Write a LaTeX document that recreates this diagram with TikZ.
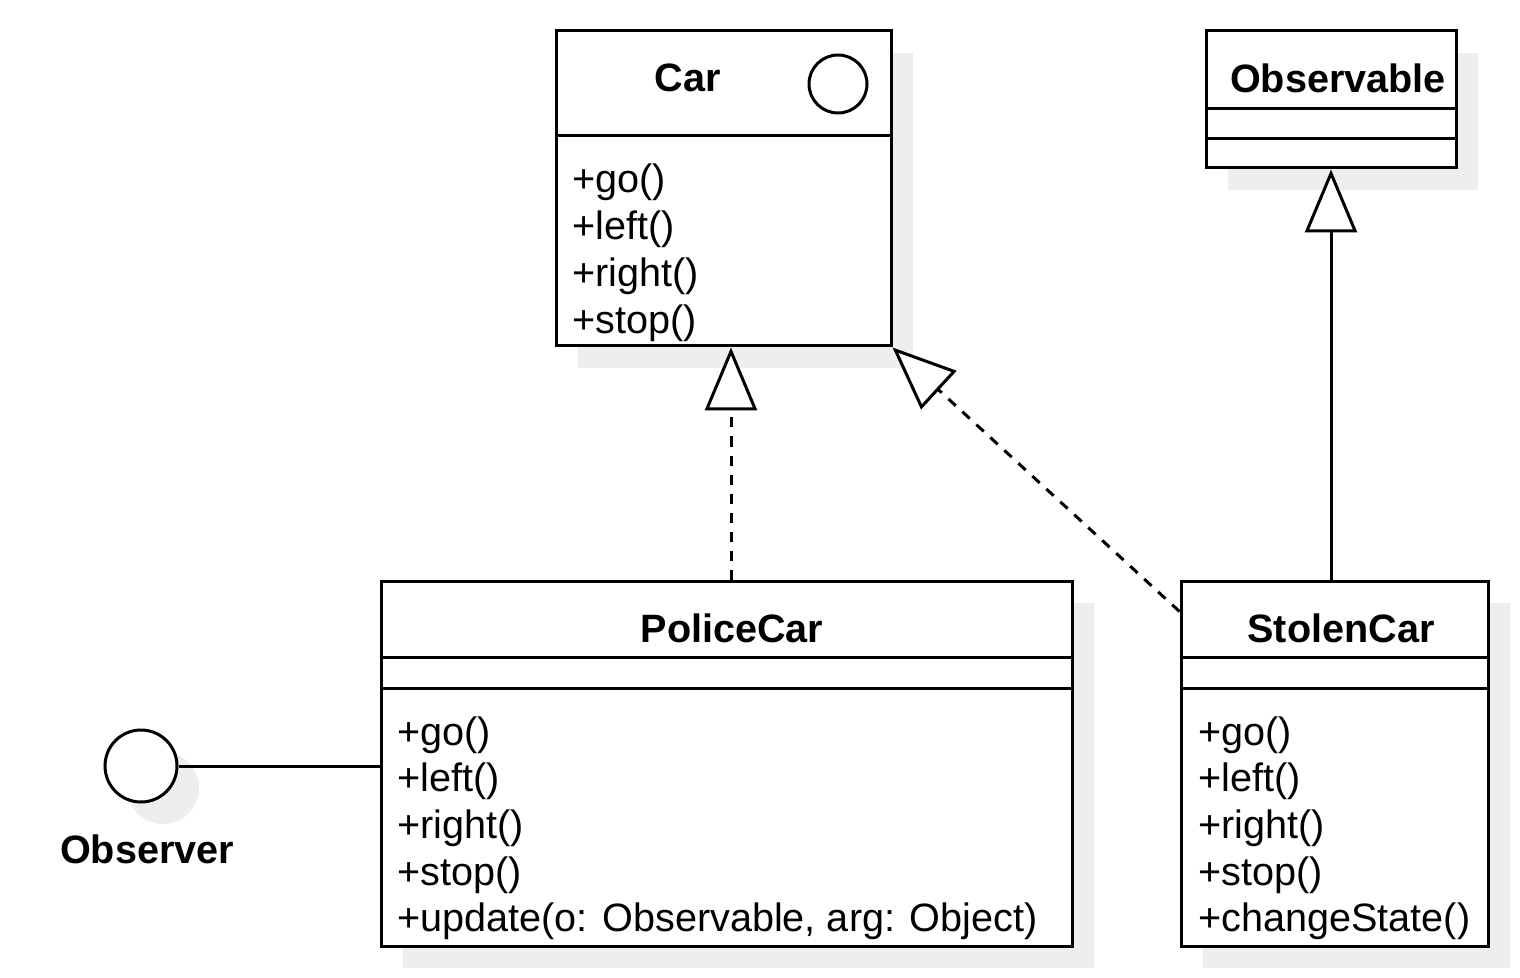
\documentclass[tikz,border=0pt]{standalone}
\usepackage{fontspec}
\setmainfont{Liberation Sans}
\usetikzlibrary{arrows.meta,positioning,fit,shadows}
\definecolor{shadegray}{RGB}{238,238,238}

\tikzset{
  umlbox/.style={draw,line width=1.5pt,fill=white,inner sep=0pt,
    drop shadow={shadow xshift=11pt,shadow yshift=-11pt,fill=shadegray,opacity=1}},
  umlname/.style={font=\fontsize{19.8}{23.35}\selectfont\bfseries,inner sep=0pt,anchor=base},
  umlop/.style={font=\fontsize{19.8}{23.35}\selectfont,inner sep=0pt,anchor=base west},
  umlrule/.style={line width=1.5pt},
  realizes/.style={line width=1.5pt,dash pattern=on 5pt off 4.5pt,
    -{Triangle[fill=white,length=31.5pt,width=26pt,line width=1.5pt]}},
  inherits/.style={line width=1.5pt,
    -{Triangle[fill=white,length=31.5pt,width=26pt,line width=1.5pt]}},
}

\begin{document}
\begin{tikzpicture}[x=0.5pt,y=-0.5pt]
  \useasboundingbox (0,0) rectangle (1520,978);
%
  % Car
  \node[umlbox, fit={(556,31) (891,346)}] (car) {};
  \draw[umlrule] ([yshift=-53pt]car.north west) -- ([yshift=-53pt]car.north east);
  \node[umlname] (carname) at (688,92) {Car};
  \node[draw,circle,line width=1.5pt,minimum size=29pt,inner sep=0pt] (carmark) at (838,84) {};
  \node[umlop] (carop1) at (572,193) {+go()};
  \node[umlop] (carop2) at ([yshift=-23.35pt]carop1.base west) {+left()};
  \node[umlop] (carop3) at ([yshift=-23.35pt]carop2.base west) {+right()};
  \node[umlop] (carop4) at ([yshift=-23.35pt]carop3.base west) {+stop()};
%
  % Observable
  \node[umlbox, fit={(1206,31) (1456,168)}] (observable) {};
  \draw[umlrule] ([yshift=-39.5pt]observable.north west) -- ([yshift=-39.5pt]observable.north east);
  \draw[umlrule] ([yshift=-54.5pt]observable.north west) -- ([yshift=-54.5pt]observable.north east);
  \node[umlname] (observablename) at (1338,93) {Observable};
%
  % PoliceCar
  \node[umlbox, fit={(381,581) (1072,946)}] (police) {};
  \draw[umlrule] ([yshift=-39pt]police.north west) -- ([yshift=-39pt]police.north east);
  \draw[umlrule] ([yshift=-54.5pt]police.north west) -- ([yshift=-54.5pt]police.north east);
  \node[umlname] (policename) at (732,642) {PoliceCar};
  \node[umlop] (policeop1) at (397,745) {+go()};
  \node[umlop] (policeop2) at ([yshift=-23.35pt]policeop1.base west) {+left()};
  \node[umlop] (policeop3) at ([yshift=-23.35pt]policeop2.base west) {+right()};
  \node[umlop] (policeop4) at ([yshift=-23.35pt]policeop3.base west) {+stop()};
  \node[umlop] (policeop5) at ([yshift=-23.35pt]policeop4.base west) {+update(o: Observable, arg: Object)};
%
  % StolenCar
  \node[umlbox, fit={(1181,581) (1488,946)}] (stolen) {};
  \draw[umlrule] ([yshift=-39pt]stolen.north west) -- ([yshift=-39pt]stolen.north east);
  \draw[umlrule] ([yshift=-54.5pt]stolen.north west) -- ([yshift=-54.5pt]stolen.north east);
  \node[umlname] (stolenname) at (1341,642) {StolenCar};
  \node[umlop] (stolenop1) at (1198,745) {+go()};
  \node[umlop] (stolenop2) at ([yshift=-23.35pt]stolenop1.base west) {+left()};
  \node[umlop] (stolenop3) at ([yshift=-23.35pt]stolenop2.base west) {+right()};
  \node[umlop] (stolenop4) at ([yshift=-23.35pt]stolenop3.base west) {+stop()};
  \node[umlop] (stolenop5) at ([yshift=-23.35pt]stolenop4.base west) {+changeState()};
%
  % Observer interface
  \node[draw,circle,line width=1.5pt,minimum size=36pt,inner sep=0pt,fill=white,
        drop shadow={shadow xshift=11pt,shadow yshift=-11pt,fill=shadegray,opacity=1}]
        (observer) at (141,766) {};
  \node[umlname] (observername) at (147,863) {Observer};
  \draw[umlrule] (observer.east) -- (observer.east -| police.west);
%
  % relations
  \coordinate (policetop) at ([xshift=2.25pt]police.north);
  \draw[realizes] (policetop) -- (policetop |- car.south);
  \draw[realizes] ([yshift=-16pt]stolen.north west) -- (car.south east);
  \draw[inherits] (stolen.north -| observable.south) -- (observable.south);
%
\end{tikzpicture}
\end{document}
